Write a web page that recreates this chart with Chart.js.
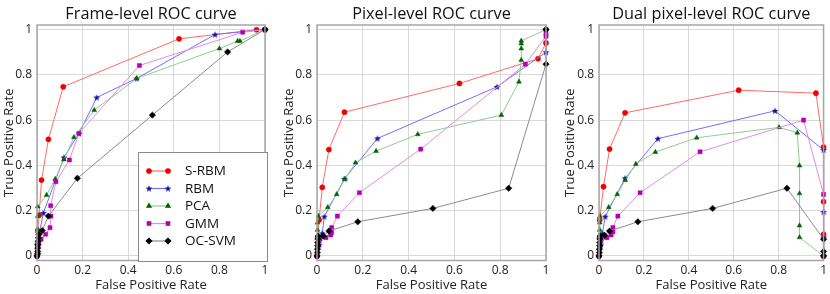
<!DOCTYPE html>
<html>
<head>
<meta charset="utf-8">
<script src="https://cdn.jsdelivr.net/npm/chart.js@4.4.1/dist/chart.umd.min.js"></script>
<style>
  html, body { margin: 0; padding: 0; background: #fff; }
  #wrap { position: relative; width: 830px; height: 294px; overflow: hidden; }
  .panel { position: absolute; top: 0; height: 294px; }
</style>
</head>
<body>
<div id="wrap">
  <div class="panel" style="left:0px;width:278px"><canvas id="frame"></canvas></div>
  <div class="panel" style="left:278px;width:278px"><canvas id="pixel"></canvas></div>
  <div class="panel" style="left:556px;width:274px"><canvas id="dual"></canvas></div>
</div>
<script>
// methods shown in the legend
const methods = ['S-RBM', 'RBM', 'PCA', 'GMM', 'OC-SVM'];
const axisTicks = [0, 0.2, 0.4, 0.6, 0.8, 1];

// Frame-level ROC points [FPR, TPR]
const frameSRBM = [[0,0],[0.002,0.05],[0.004,0.11],[0.009,0.18],[0.02,0.335],[0.05,0.515],[0.115,0.747],[0.623,0.959],[0.963,0.999],[1,1]];
const frameRBM = [[0,0],[0.004,0.05],[0.01,0.1],[0.028,0.19],[0.118,0.435],[0.184,0.541],[0.262,0.70],[0.437,0.784],[0.781,0.978],[1,1]];
const framePCA = [[0,0],[0.002,0.12],[0.003,0.176],[0.003,0.218],[0.042,0.269],[0.08,0.34],[0.118,0.426],[0.162,0.524],[0.251,0.644],[0.437,0.784],[0.8,0.916],[0.88,0.949],[0.89,0.949],[1,1]];
const frameGMM = [[0,0],[0.003,0.02],[0.005,0.04],[0.008,0.06],[0.018,0.074],[0.038,0.096],[0.057,0.125],[0.061,0.176],[0.06,0.222],[0.083,0.328],[0.142,0.424],[0.184,0.541],[0.449,0.841],[0.902,0.988],[1,1]];
const frameOCSVM = [[0,0],[0.003,0.01],[0.003,0.02],[0.003,0.035],[0.004,0.05],[0.005,0.065],[0.006,0.08],[0.008,0.095],[0.023,0.112],[0.05,0.176],[0.177,0.343],[0.506,0.622],[0.836,0.901],[1,1]];

// Pixel-level ROC points
const pixelSRBM = [[0,0],[0.003,0.08],[0.009,0.159],[0.023,0.303],[0.052,0.47],[0.12,0.635],[0.622,0.762],[0.965,0.871],[1,0.941],[1,1]];
const pixelRBM = [[0,0],[0.01,0.05],[0.023,0.1],[0.032,0.174],[0.12,0.341],[0.264,0.519],[0.786,0.747],[1,0.9],[1,1]];
const pixelPCA = [[0,0],[0.002,0.115],[0.002,0.147],[0.006,0.176],[0.047,0.215],[0.086,0.272],[0.122,0.34],[0.168,0.412],[0.258,0.463],[0.44,0.537],[0.805,0.622],[0.882,0.769],[0.892,0.865],[0.892,0.916],[0.892,0.938],[0.892,0.95],[1,1]];
const pixelGMM = [[0,0],[0.004,0.04],[0.013,0.074],[0.039,0.081],[0.06,0.093],[0.064,0.104],[0.064,0.125],[0.089,0.176],[0.185,0.279],[0.453,0.472],[0.91,0.847],[1,0.97],[1,0.98]];
const pixelOCSVM = [[0,0],[0.002,0.015],[0.002,0.03],[0.003,0.045],[0.003,0.06],[0.004,0.075],[0.005,0.088],[0.028,0.088],[0.052,0.11],[0.178,0.151],[0.506,0.21],[0.837,0.299],[1,0.847],[1,1]];

// Dual pixel-level ROC points
const dualSRBM = [[0,0],[0.003,0.08],[0.003,0.159],[0.02,0.306],[0.047,0.472],[0.116,0.632],[0.622,0.732],[0.966,0.719],[1,0.481],[1,0.24],[1,0.096],[1,0]];
const dualRBM = [[0,0],[0.008,0.05],[0.015,0.1],[0.028,0.174],[0.116,0.343],[0.262,0.518],[0.784,0.641],[1,0.468],[1,0.194],[1,0.082],[1,0]];
const dualPCA = [[0,0],[0.003,0.115],[0.003,0.147],[0.004,0.176],[0.043,0.215],[0.081,0.272],[0.117,0.335],[0.164,0.406],[0.251,0.459],[0.435,0.522],[0.802,0.568],[0.883,0.544],[0.893,0.399],[0.893,0.276],[0.893,0.134],[0.893,0.082],[1,0]];
const dualGMM = [[0,0],[0.004,0.04],[0.01,0.074],[0.035,0.081],[0.054,0.093],[0.062,0.107],[0.062,0.126],[0.084,0.176],[0.183,0.279],[0.45,0.46],[0.911,0.6],[1,0.272],[1,0.08],[1,0]];
const dualOCSVM = [[0,0],[0.002,0.015],[0.002,0.03],[0.003,0.045],[0.003,0.06],[0.004,0.075],[0.005,0.088],[0.025,0.091],[0.047,0.11],[0.173,0.151],[0.506,0.21],[0.837,0.299],[1,0.074],[1,0.02],[1,0]];

const FONT = '"Open Sans", "DejaVu Sans", sans-serif';

// 5-point star marker like matplotlib '*'
function makeStar(color) {
    const c = document.createElement('canvas');
    c.width = 8; c.height = 8;
    const g = c.getContext('2d');
    g.fillStyle = color;
    g.beginPath();
    for (let i = 0; i < 10; i++) {
        const r = i % 2 === 0 ? 3.6 : 1.5;
        const a = -Math.PI / 2 + i * Math.PI / 5;
        g.lineTo(4 + r * Math.cos(a), 4.3 + r * Math.sin(a));
    }
    g.closePath();
    g.fill();
    return c;
}

const styles = [
    { line: '#ff6a6a', mark: '#ee0000', point: 'circle', r: 2.6 },
    { line: '#7070ff', mark: '#1010a0', point: makeStar('#1010a0'), r: 3.5 },
    { line: '#8fce8f', mark: '#006400', point: 'triangle', r: 2.8 },
    { line: '#e68ae6', mark: '#b000b0', point: 'rect', r: 2.9 },
    { line: '#8c8c8c', mark: '#000000', point: 'rectRot', r: 3.2 }
];

function toXY(arr) {
    return arr.map(p => ({ x: p[0], y: p[1] }));
}

// axes frame plus the panel title centred over the plot area
const framePlugin = {
    id: 'frameBox',
    afterDatasetsDraw(chart, args, opts) {
        const a = chart.chartArea;
        const ctx = chart.ctx;
        ctx.save();
        ctx.strokeStyle = '#a6a6a6';
        ctx.lineWidth = 1.5;
        ctx.strokeRect(a.left, a.top, a.right - a.left, a.bottom - a.top);
        ctx.fillStyle = '#111111';
        ctx.font = '16.3px ' + FONT;
        ctx.textAlign = 'center';
        ctx.textBaseline = 'middle';
        ctx.fillText(opts.text, (a.left + a.right) / 2, 14.5);
        ctx.restore();
    }
};

const legendPlugin = {
    id: 'insideLegend',
    afterDraw(chart, args, opts) {
        if (!opts.show) return;
        const ctx = chart.ctx;
        ctx.save();
        ctx.fillStyle = '#ffffff';
        ctx.fillRect(138, 152, 129, 109);
        ctx.strokeStyle = '#8a8a8a';
        ctx.lineWidth = 1;
        ctx.strokeRect(138.5, 152.5, 129, 109);
        ctx.font = '13.5px ' + FONT;
        ctx.textBaseline = 'middle';
        methods.forEach((name, i) => {
            const st = styles[i];
            const y = 171 + i * 17.5;
            ctx.strokeStyle = st.line;
            ctx.lineWidth = 1.2;
            ctx.beginPath();
            ctx.moveTo(149, y);
            ctx.lineTo(168, y);
            ctx.stroke();
            const po = { pointStyle: st.point, radius: st.r * 0.85, borderWidth: 0.5, rotation: 0 };
            ctx.fillStyle = st.mark;
            ctx.strokeStyle = st.mark;
            Chart.helpers.drawPoint(ctx, po, 149, y);
            Chart.helpers.drawPoint(ctx, po, 168, y);
            ctx.fillStyle = '#111111';
            ctx.fillText(name, 185, y + 0.5);
        });
        ctx.restore();
    }
};

function makePanel(id, title, series, layout) {
    const datasets = series.map((arr, i) => ({
        label: methods[i],
        data: toXY(arr),
        borderColor: styles[i].line,
        borderWidth: 1,
        backgroundColor: styles[i].mark,
        pointBackgroundColor: styles[i].mark,
        pointBorderColor: styles[i].mark,
        pointBorderWidth: 0.5,
        pointStyle: styles[i].point,
        pointRadius: styles[i].r,
        showLine: true,
        tension: 0,
        clip: 6,
        order: 4 - i
    }));

    return new Chart(document.getElementById(id), {
        type: 'scatter',
        data: { datasets },
        options: {
            responsive: true,
            maintainAspectRatio: false,
            animation: false,
            events: [],
            layout: { padding: { left: 0, right: layout.right, top: 25, bottom: 0 } },
            plugins: {
                legend: { display: false },
                tooltip: { enabled: false },
                title: { display: false },
                frameBox: { text: title },
                insideLegend: { show: layout.legend }
            },
            scales: {
                x: {
                    type: 'linear',
                    min: 0,
                    max: 1,
                    afterBuildTicks: s => { s.ticks = axisTicks.map(v => ({ value: v })); },
                    afterFit: s => { s.height = 33.5; },
                    grid: { color: '#d9d9d9', lineWidth: 1, drawTicks: false },
                    border: { display: false },
                    ticks: {
                        color: '#222222',
                        padding: 3,
                        maxRotation: 0,
                        font: { family: FONT, size: 12 },
                        callback: v => String(+v.toFixed(1))
                    },
                    title: {
                        display: true,
                        text: 'False Positive Rate',
                        color: '#222222',
                        font: { family: FONT, size: 13, lineHeight: 1.1 },
                        padding: { top: 0, bottom: 2 }
                    }
                },
                y: {
                    type: 'linear',
                    min: -0.02,
                    max: 1.02,
                    afterBuildTicks: s => { s.ticks = axisTicks.map(v => ({ value: v })); },
                    afterFit: s => { s.width = layout.left; },
                    grid: { color: '#d9d9d9', lineWidth: 1, drawTicks: false },
                    border: { display: false },
                    ticks: {
                        color: '#222222',
                        padding: 5,
                        font: { family: FONT, size: 12 },
                        callback: v => String(+v.toFixed(1))
                    },
                    title: {
                        display: true,
                        text: 'True Positive Rate',
                        color: '#222222',
                        font: { family: FONT, size: 13, lineHeight: 1.1 },
                        padding: { top: layout.titlePad, bottom: 0 }
                    }
                }
            }
        },
        plugins: [framePlugin, legendPlugin]
    });
}

makePanel('frame', 'Frame-level ROC curve',
    [frameSRBM, frameRBM, framePCA, frameGMM, frameOCSVM],
    { left: 37, right: 13, titlePad: 2, legend: true });
makePanel('pixel', 'Pixel-level ROC curve',
    [pixelSRBM, pixelRBM, pixelPCA, pixelGMM, pixelOCSVM],
    { left: 39, right: 10, titlePad: 4, legend: false });
makePanel('dual', 'Dual pixel-level ROC curve',
    [dualSRBM, dualRBM, dualPCA, dualGMM, dualOCSVM],
    { left: 43, right: 3, titlePad: 7, legend: false });
</script>
</body>
</html>
